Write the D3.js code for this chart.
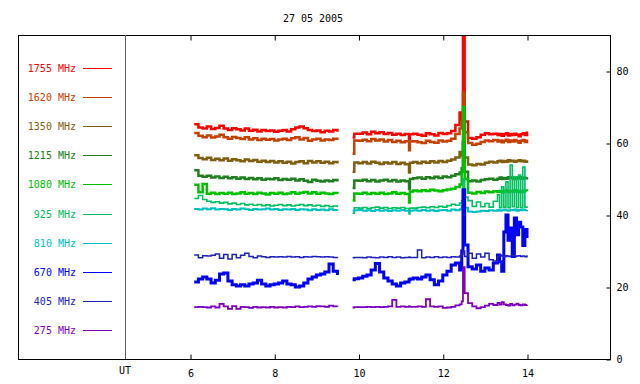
<!DOCTYPE html>
<html>
<head>
<meta charset="utf-8">
<script src="https://cdn.jsdelivr.net/npm/d3@7"></script>
<style>
body { margin: 0; background: #fff; }
svg { display: block; }
text { font-family: "DejaVu Sans Mono", monospace; font-size: 10px; }
</style>
</head>
<body>
<svg id="chart" width="640" height="384"></svg>
<script>
// time in UT hours, null marks the data gap
const hours = [
    6.1,6.2,6.3,6.4,6.5,6.6,6.7,6.8,6.9,7.0,
    7.1,7.2,7.3,7.4,7.5,7.6,7.7,7.8,7.9,8.0,
    8.1,8.2,8.3,8.4,8.5,8.6,8.7,8.8,8.9,9.0,
    9.1,9.2,9.3,9.4,9.5,
    null,
    9.86,9.9,10.0,10.1,10.2,10.3,10.4,10.5,10.6,10.7,10.8,
    10.9,11.0,11.1,11.2,11.22,11.3,11.4,11.5,11.6,11.7,11.8,
    11.9,12.0,12.1,12.2,12.3,12.4,
    12.45,12.48,12.52,
    12.6,12.7,12.8,12.9,13.0,13.1,13.2,
    13.3,13.35,13.4,13.45,13.5,13.55,13.6,13.65,13.7,13.75,13.8,13.85,13.9,13.95,14.0
];

const mhz1755 = [
    65.2,64.3,64.0,64.6,63.9,64.2,64.8,64.0,63.6,64.1,
    63.8,63.5,64.0,63.4,63.7,63.2,63.6,63.3,63.5,63.1,
    63.4,63.6,63.2,63.8,64.3,64.6,64.1,63.6,63.3,63.5,
    63.0,63.4,63.2,63.6,63.1,
    null,
    61.5,62.6,62.6,62.9,62.4,63.1,62.7,63.0,62.5,62.8,62.3,
    62.6,62.2,62.5,61.2,62.4,62.6,62.3,62.0,62.7,62.4,62.1,
    62.8,62.5,62.7,63.3,65.0,68.5,
    66.5,95.0,66.0,
    61.4,61.2,61.6,62.3,62.7,62.4,62.6,
    62.2,62.5,62.0,62.4,62.7,62.1,62.5,62.2,62.6,62.3,61.9,62.4,62.7,62.2,63.2
];
const mhz1620 = [
    62.8,62.0,61.6,62.1,61.5,61.8,62.3,61.6,61.2,61.7,
    61.4,61.1,61.6,61.0,61.3,60.8,61.2,60.9,61.1,60.7,
    61.0,61.2,60.8,61.3,61.6,61.0,61.4,60.6,61.0,61.2,
    60.7,61.0,60.8,61.2,60.9,
    null,
    57.0,60.7,60.6,60.9,60.5,61.1,60.7,61.0,60.4,60.8,60.3,
    60.6,60.2,60.5,58.0,60.4,60.5,60.2,60.0,60.6,60.3,60.1,
    60.7,60.4,60.6,61.2,62.5,64.0,
    66.0,74.0,63.0,
    60.0,59.5,59.8,60.3,60.7,60.5,60.8,
    60.4,60.7,60.2,60.6,60.9,60.3,60.7,60.4,60.8,60.5,60.1,60.6,60.8,60.3,61.0
];
const mhz1350 = [
    56.6,55.8,55.5,55.9,55.3,55.6,55.2,55.7,55.1,55.5,
    55.2,54.9,55.4,55.0,55.3,54.8,55.1,54.7,55.0,54.6,
    54.9,54.5,54.8,54.3,54.7,54.9,54.4,55.0,54.6,54.9,
    54.5,54.8,54.4,54.7,54.3,
    null,
    52.0,54.6,54.4,54.7,54.3,54.8,54.5,54.2,54.6,54.3,54.7,
    54.2,54.5,54.1,51.8,54.5,54.7,54.4,54.8,54.5,54.9,54.6,
    55.0,54.7,55.1,55.4,56.0,57.5,
    56.5,60.5,56.0,
    54.0,53.8,54.2,54.0,54.5,54.8,54.6,
    54.9,55.1,54.7,55.0,54.8,55.2,54.9,55.1,54.8,55.0,55.2,54.9,55.1,54.8,55.2
];
const mhz1215 = [
    52.4,50.9,50.6,50.9,50.4,50.7,50.3,50.6,50.2,50.5,
    50.1,50.4,50.0,50.3,49.9,50.2,49.8,50.1,49.9,50.2,
    49.7,50.0,49.8,50.1,49.6,49.9,49.5,49.2,49.8,49.5,
    49.3,49.6,49.4,49.7,49.3,
    null,
    47.5,49.6,49.5,49.8,49.4,49.7,49.3,49.6,49.8,49.4,49.7,
    49.3,49.6,49.4,47.2,50.0,50.2,50.4,50.1,50.5,50.2,50.6,
    50.3,50.7,50.5,50.9,51.3,51.8,
    53.0,60.0,52.0,
    49.4,49.6,49.3,49.7,49.9,50.1,49.8,
    50.1,50.4,50.0,50.3,50.1,50.5,50.2,50.4,50.0,50.3,50.5,50.1,50.4,50.2,50.5
];
const mhz1080 = [
    48.4,46.3,48.6,45.9,46.2,45.8,46.1,45.9,46.2,45.8,
    46.0,46.3,45.9,46.1,45.8,46.2,46.0,45.7,46.1,45.9,
    46.2,45.8,46.0,46.3,45.9,46.2,46.4,46.0,46.3,45.9,
    46.2,46.0,45.8,46.1,45.9,
    null,
    44.0,46.0,45.9,46.2,45.8,46.1,45.9,46.2,45.8,46.0,46.3,
    45.9,46.1,45.8,43.5,46.5,46.8,46.6,46.9,46.7,47.0,46.8,
    46.6,46.9,47.1,47.3,47.8,48.5,
    52.0,70.0,50.0,
    46.2,46.0,46.4,46.1,46.5,46.3,46.6,
    46.4,46.7,46.3,46.6,46.8,46.4,46.7,46.5,46.9,46.6,46.4,46.7,46.5,46.8,46.6
];
const mhz925 = [
    44.6,45.4,44.3,43.8,43.5,43.7,43.3,43.5,43.1,43.3,
    42.9,43.2,42.8,43.0,42.7,42.9,42.6,42.8,42.5,42.7,
    42.9,42.6,42.8,42.5,42.7,42.9,42.6,42.8,42.5,42.7,
    42.4,42.6,42.3,42.5,42.2,
    null,
    40.5,42.0,41.9,42.1,41.8,42.0,42.2,41.9,42.1,41.8,42.0,
    41.9,42.1,41.8,40.3,41.9,41.9,42.1,42.2,42.0,42.3,42.1,
    42.4,42.2,42.6,43.0,42.7,43.3,
    44.0,50.0,45.0,
    44.0,42.4,43.6,42.3,43.2,42.2,43.8,
    45.6,42.0,47.8,42.2,49.2,42.0,53.9,42.3,50.6,42.1,51.1,42.0,53.3,42.2,42.4
];
const mhz810 = [
    41.7,41.5,41.8,41.6,41.9,41.5,41.7,41.6,41.4,41.7,
    41.5,41.8,41.6,41.4,41.7,41.5,41.6,41.8,41.5,41.7,
    41.4,41.6,41.5,41.7,41.4,41.6,41.5,41.3,41.6,41.4,
    41.5,41.3,41.6,41.4,41.5,
    null,
    41.2,41.3,41.4,41.2,41.3,41.1,41.4,41.2,41.3,41.1,41.3,
    41.2,41.4,41.2,41.0,41.2,41.3,41.2,41.4,41.2,41.3,41.1,
    41.3,41.4,41.2,41.5,41.3,41.6,
    42.5,46.0,42.0,
    41.0,40.8,41.0,41.2,41.1,41.3,41.2,
    41.4,41.2,41.3,41.5,41.3,41.2,41.4,41.3,41.5,41.2,41.4,41.3,41.5,41.3,41.4
];
const mhz670 = [
    21.4,22.2,22.8,22.2,21.1,21.9,23.6,23.9,21.7,20.6,
    20.3,20.6,20.3,20.8,21.1,21.9,20.8,20.3,20.6,20.8,
    21.1,21.7,20.8,20.6,20.0,20.3,21.1,22.2,22.8,23.3,
    23.6,24.2,26.4,24.4,23.3,
    null,
    22.0,22.3,22.5,23.0,23.3,24.7,26.5,24.2,22.5,21.7,20.8,
    20.3,21.1,21.4,22.0,22.2,22.5,22.2,22.8,23.3,22.0,20.6,
    21.7,23.3,24.4,26.1,26.7,24.7,
    30.0,47.0,31.7,
    25.6,25.0,26.1,24.4,25.3,24.7,26.7,
    28.9,27.0,24.4,35.3,40.0,33.0,36.4,28.5,39.2,34.5,38.0,36.7,31.5,36.0,33.6
];
const mhz405 = [
    28.9,28.1,28.7,28.6,28.8,29.2,28.0,29.0,27.8,29.0,
    28.1,28.8,29.4,28.5,28.1,28.6,28.4,28.2,28.4,28.3,
    28.4,28.3,28.5,28.3,28.4,28.2,28.4,28.3,28.5,28.4,
    28.3,28.4,28.3,28.2,28.3,
    null,
    28.1,28.2,28.2,28.1,28.3,28.2,28.1,28.3,28.2,28.4,28.2,
    28.3,28.1,28.2,28.3,28.2,28.2,30.3,28.1,28.3,28.2,28.4,
    28.2,28.3,28.2,28.4,28.3,28.6,
    29.0,30.0,28.5,
    29.4,28.0,29.2,28.3,29.4,27.6,27.2,
    28.5,28.8,28.6,28.4,28.7,28.5,28.6,28.8,28.5,28.6,28.7,28.5,28.6,28.4,28.8
];
const mhz275 = [
    14.4,14.5,14.4,14.3,14.6,14.3,15.3,14.6,13.9,14.7,
    13.9,14.5,14.4,14.2,14.5,14.3,14.4,14.3,14.5,14.3,
    14.4,14.3,14.5,14.4,14.6,14.4,14.5,14.6,14.5,14.7,
    14.6,14.5,14.8,14.6,14.5,
    null,
    14.3,14.4,14.4,14.4,14.5,14.4,14.5,14.4,14.5,14.6,16.4,
    14.5,14.6,14.5,14.7,14.5,14.5,14.6,14.5,16.6,14.6,14.5,
    14.6,14.2,14.3,14.5,14.9,15.2,
    16.0,25.5,18.3,
    15.5,14.6,14.1,14.4,14.8,15.3,15.0,
    15.6,15.1,15.8,15.2,15.0,14.8,15.3,14.9,15.1,15.4,15.0,14.9,15.2,15.0,15.1
];

const labels = ["1755 MHz", "1620 MHz", "1350 MHz", "1215 MHz", "1080 MHz",
                "925 MHz", "810 MHz", "670 MHz", "405 MHz", "275 MHz"];
const colors = ["#ff0000", "#c84000", "#806010", "#208020", "#00c000",
                "#00c060", "#00c0c0", "#0000ff", "#2020c0", "#8000c0"];
const widths = [2.5, 2.5, 2.5, 2.5, 2.5, 1.6, 2, 3, 1.5, 1.8];
const seriesValues = [mhz1755, mhz1620, mhz1350, mhz1215, mhz1080,
                      mhz925, mhz810, mhz670, mhz405, mhz275];
const xTicks = [6, 8, 10, 12, 14];
const yTicks = [0, 20, 40, 60, 80];
const title = "27 05 2005";

const svg = d3.select("#chart");
const frameLeft = 18, frameRight = 610, frameTop = 35, frameBottom = 359, utX = 125;

const xScale = d3.scaleLinear().domain([6, 14]).range([190, 527]);
const yScale = d3.scaleLinear().domain([0, 90]).range([frameBottom, frameTop]);

svg.append("rect").attr("width", 640).attr("height", 384).attr("fill", "#fff");

svg.append("clipPath").attr("id", "plotClip")
    .append("rect")
    .attr("x", utX).attr("y", frameTop)
    .attr("width", frameRight - utX).attr("height", frameBottom - frameTop);

// data lines
const lineGenerator = d3.line()
    .defined(d => d.h != null && d.v != null)
    .x(d => xScale(d.h))
    .y(d => yScale(d.v))
    .curve(d3.curveStepAfter);

const plot = svg.append("g").attr("clip-path", "url(#plotClip)");
seriesValues.forEach((vals, k) => {
    const pts = hours.map((h, i) => ({ h: h, v: vals[i] }));
    plot.append("path")
        .datum(pts)
        .attr("fill", "none")
        .attr("stroke", colors[k])
        .attr("stroke-width", widths[k])
        .attr("d", lineGenerator);
});

// frame and UT divider
svg.append("rect")
    .attr("x", frameLeft + 0.5).attr("y", frameTop + 0.5)
    .attr("width", frameRight - frameLeft).attr("height", frameBottom - frameTop)
    .attr("fill", "none").attr("stroke", "#000");

svg.append("line")
    .attr("x1", utX + 0.5).attr("x2", utX + 0.5)
    .attr("y1", frameTop).attr("y2", frameBottom)
    .attr("stroke", "#606060");

// axes
const xAxisBottom = d3.axisBottom(xScale)
    .tickValues(xTicks).tickSizeInner(-5).tickSizeOuter(0).tickPadding(10);
const gx = svg.append("g").attr("transform", `translate(0.5,${frameBottom + 0.5})`).call(xAxisBottom);
gx.select(".domain").remove();

const xAxisTop = d3.axisTop(xScale)
    .tickValues(xTicks).tickSizeInner(-5).tickSizeOuter(0).tickFormat("");
const gxt = svg.append("g").attr("transform", `translate(0.5,${frameTop + 0.5})`).call(xAxisTop);
gxt.select(".domain").remove();

const yAxis = d3.axisRight(yScale)
    .tickValues(yTicks).tickSizeInner(-4).tickSizeOuter(0).tickPadding(6);
const gy = svg.append("g").attr("transform", `translate(${frameRight + 0.5},0.5)`).call(yAxis);
gy.select(".domain").remove();

svg.selectAll(".tick text")
    .attr("fill", "#000")
    .style("font-family", "'DejaVu Sans Mono', monospace")
    .style("font-size", "10px");

svg.append("text")
    .attr("x", utX).attr("y", 374)
    .attr("text-anchor", "middle")
    .text("UT");

svg.append("text")
    .attr("x", 313).attr("y", 22)
    .attr("text-anchor", "middle")
    .text(title);

// legend
labels.forEach((lab, k) => {
    const ly = 67.5 + k * 29.2;
    svg.append("text")
        .attr("x", 76).attr("y", ly + 4)
        .attr("text-anchor", "end")
        .attr("fill", colors[k])
        .text(lab);
    svg.append("line")
        .attr("x1", 83).attr("x2", 112)
        .attr("y1", Math.round(ly) + 0.5).attr("y2", Math.round(ly) + 0.5)
        .attr("stroke", colors[k]);
});
</script>
</body>
</html>
